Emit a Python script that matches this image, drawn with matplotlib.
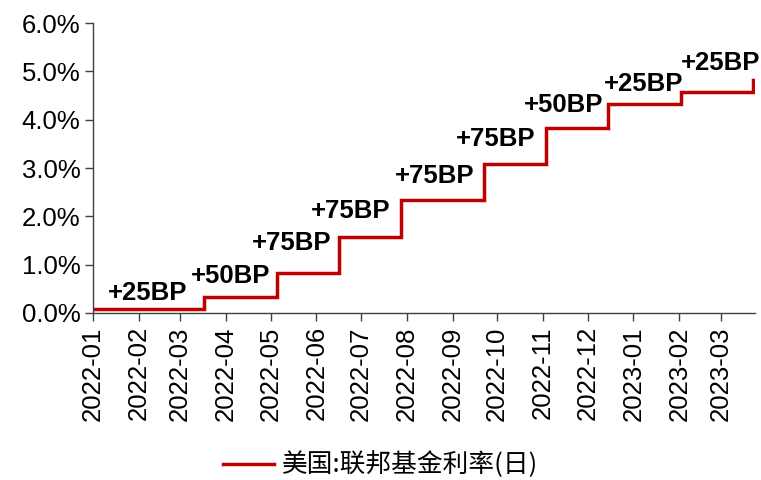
import matplotlib
matplotlib.use("Agg")
import matplotlib.pyplot as plt
import matplotlib.dates as mdates
import numpy as np
import pandas as pd
from matplotlib.ticker import FuncFormatter, MultipleLocator

# ---------------------------------------------------------------------------
# Data: effective fed funds rate (daily), as step levels
# ---------------------------------------------------------------------------
change_dates = ["2022-01-01", "2022-03-17", "2022-05-05", "2022-06-16",
                "2022-07-28", "2022-09-22", "2022-11-03", "2022-12-15",
                "2023-02-02", "2023-03-23"]
rate_levels = [0.08, 0.33, 0.83, 1.58, 2.33, 3.08, 3.83, 4.33, 4.58, 4.83]

hike_labels = ["+25BP", "+50BP", "+75BP", "+75BP", "+75BP",
               "+75BP", "+50BP", "+25BP", "+25BP"]
# where each label's right edge / baseline sits
label_x = ["2022-03-06", "2022-05-01", "2022-06-11", "2022-07-21",
           "2022-09-16", "2022-10-27", "2022-12-12", "2023-02-04",
           "2023-03-28"]
label_y = [0.27, 0.62, 1.30, 1.97, 2.69, 3.46, 4.16, 4.59, 5.03]

series_name = "美国:联邦基金利率(日)"

# ---------------------------------------------------------------------------
# Plot
# ---------------------------------------------------------------------------
plt.rcParams["font.family"] = ["Liberation Sans", "Noto Sans CJK SC", "DejaVu Sans"]

RED = "#C00000"

fig = plt.figure(figsize=(7.61, 4.8), dpi=100)
ax = fig.add_axes([0.122, 0.348, 0.870, 0.604])

dates = pd.to_datetime(change_dates)
ax.plot(dates, rate_levels, drawstyle="steps-post", color=RED, lw=2.5,
        label=series_name, solid_joinstyle="miter")

for txt, lx, ly in zip(hike_labels, pd.to_datetime(label_x), label_y):
    ax.text(lx, ly, txt, ha="right", va="baseline", fontsize=18.5,
            fontweight="bold", color="black", clip_on=False)

ax.set_ylim(0, 6)
ax.yaxis.set_major_locator(MultipleLocator(1))
ax.yaxis.set_major_formatter(FuncFormatter(lambda v, _: f"{v:.1f}%"))
ax.set_xlim(pd.Timestamp("2022-01-01"), pd.Timestamp("2023-03-24"))
ax.xaxis.set_major_locator(mdates.MonthLocator())
ax.xaxis.set_major_formatter(mdates.DateFormatter("%Y-%m"))
plt.setp(ax.get_xticklabels(), rotation=90)

ax.tick_params(axis="both", labelsize=18.5, length=6, width=1, color="#404040",
               direction="out")
ax.tick_params(axis="y", pad=3)
ax.spines[["top", "right"]].set_visible(False)
for s in ("left", "bottom"):
    ax.spines[s].set_color("#404040")
    ax.spines[s].set_linewidth(1)

fig.legend(loc="center", bbox_to_anchor=(0.5, 0.031), frameon=False,
           handlelength=2.0, handletextpad=0.3,
           prop={"family": ["Noto Sans CJK SC", "DejaVu Sans"], "size": 18.5})

fig.savefig("out.png", dpi=100)
